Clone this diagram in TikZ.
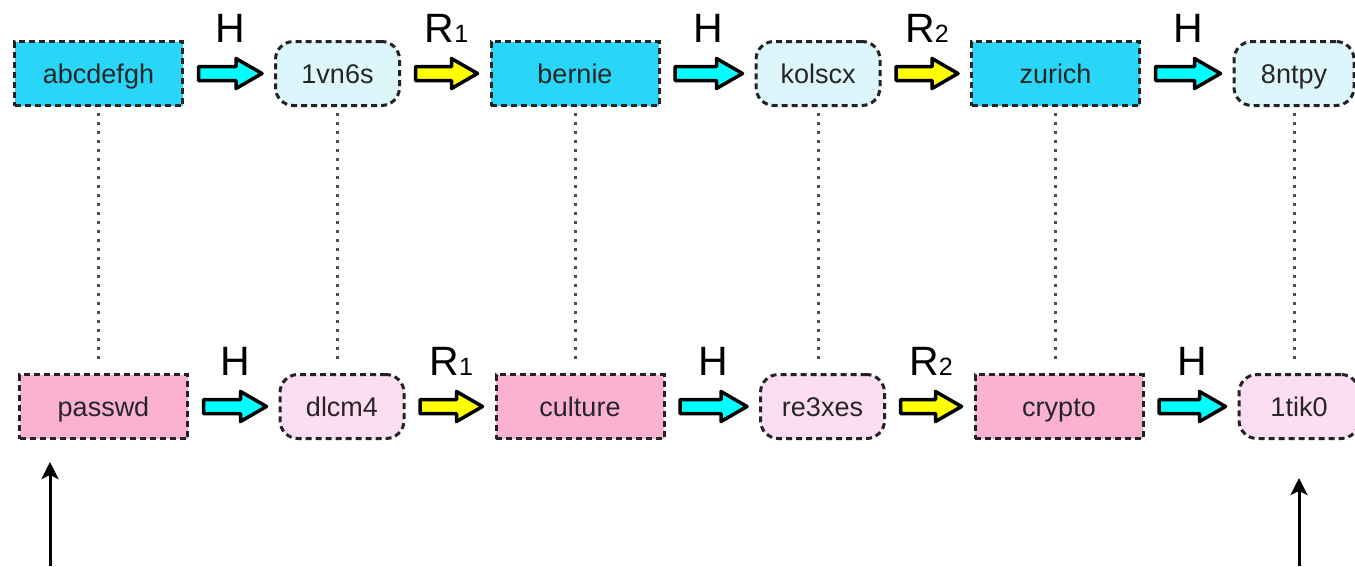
\documentclass[tikz,border=0pt]{standalone}
\usepackage{fontspec}
\setmainfont{Liberation Sans}
\usetikzlibrary{calc,arrows.meta}

\definecolor{hashbox}{RGB}{41,214,247}
\definecolor{hashround}{RGB}{220,246,252}
\definecolor{pwbox}{RGB}{250,178,208}
\definecolor{pwround}{RGB}{253,221,241}
\definecolor{edgegray}{RGB}{35,35,35}
\definecolor{dotgray}{RGB}{80,80,80}
\definecolor{hashstep}{RGB}{0,255,255}
\definecolor{redstep}{RGB}{255,255,0}

% small index after R in the reduction labels
\newcommand\idx[1]{{\fontsize{25}{25}\selectfont #1}}

% fat block arrow from node #1 to node #2, filled with #3, labelled #4
\newcommand\blockarrow[4]{%
  \path[blockstyle, fill=#3]
    let \p1=($(#1.east)+(14.5,0)$), \p2=($(#2.west)+(-12,0)$) in
    (\x1,\y1+7pt) -- (\x2-26pt,\y1+7pt) -- (\x2-26pt,\y1+15pt) -- (\x2,\y1)
    -- (\x2-26pt,\y1-15pt) -- (\x2-26pt,\y1-7pt) -- (\x1,\y1-7pt) -- cycle
    node[steplabel] at ({(\x1+\x2)/2},\y1+31pt) {#4};}

\tikzset{
  chainnode/.style={draw=edgegray, line width=3pt, dash pattern=on 6pt off 4pt,
    minimum height=64pt, inner sep=0pt, text=black!85,
    text height=24pt, text depth=5pt,
    font=\fontsize{27}{30}\selectfont},
  plainbox/.style={chainnode, rectangle, minimum width=168pt},
  roundbox/.style={chainnode, rounded corners=18pt, minimum width=124pt},
  blockstyle/.style={draw=black, line width=3.5pt, line join=round},
  steplabel/.style={anchor=base, inner sep=0pt, font=\fontsize{41}{44}\selectfont},
  linkline/.style={draw=dotgray, line width=3pt, dash pattern=on 3pt off 6pt,
    shorten <=6pt, shorten >=9pt},
  entry/.style={draw=black, line width=3pt,
    -{Stealth[length=17pt, width=17pt, inset=4pt]}}
}

\begin{document}
\begin{tikzpicture}[x=1pt, y=-1pt]
\useasboundingbox (0,0) rectangle (1355,566);

% upper chain
\node[plainbox, fill=hashbox]   (a1) at (98.5,73.5)  {abcdefgh};
\node[roundbox, fill=hashround] (b1) at (337.5,73.5) {1vn6s};
\node[plainbox, fill=hashbox]   (c1) at (575,73.5)   {bernie};
\node[roundbox, fill=hashround] (d1) at (818,73.5)   {kolscx};
\node[plainbox, fill=hashbox]   (e1) at (1055.5,73.5) {zurich};
\node[roundbox, fill=hashround, minimum width=120pt] (f1) at (1294,73.5) {8ntpy};

% lower chain
\node[plainbox, fill=pwbox]   (a2) at (103.5,406.5) {passwd};
\node[roundbox, fill=pwround] (b2) at (342,406.5)   {dlcm4};
\node[plainbox, fill=pwbox]   (c2) at (580,406.5)   {culture};
\node[roundbox, fill=pwround] (d2) at (822.5,406.5) {re3xes};
\node[plainbox, fill=pwbox]   (e2) at (1059,406.5)  {crypto};
\node[roundbox, fill=pwround, minimum width=120pt] (f2) at (1299,406.5) {1tik0};

% links between the two chains
\foreach \n in {a,b,c,d,e,f}
  \draw[linkline] (\n1.south) -- (\n1.south |- \n2.north);

% hash and reduction steps
\blockarrow{a1}{b1}{hashstep}{H}
\blockarrow{b1}{c1}{redstep}{R\idx{1}}
\blockarrow{c1}{d1}{hashstep}{H}
\blockarrow{d1}{e1}{redstep}{R\idx{2}}
\blockarrow{e1}{f1}{hashstep}{H}

\blockarrow{a2}{b2}{hashstep}{H}
\blockarrow{b2}{c2}{redstep}{R\idx{1}}
\blockarrow{c2}{d2}{hashstep}{H}
\blockarrow{d2}{e2}{redstep}{R\idx{2}}
\blockarrow{e2}{f2}{hashstep}{H}

% chain start and end markers
\coordinate (startin) at (50,566);
\coordinate (endin) at (1299,566);
\draw[entry] (startin) -- ($(startin |- a2.south)+(0,22)$);
\draw[entry] (endin) -- ($(endin |- f2.south)+(0,38)$);
\end{tikzpicture}
\end{document}
